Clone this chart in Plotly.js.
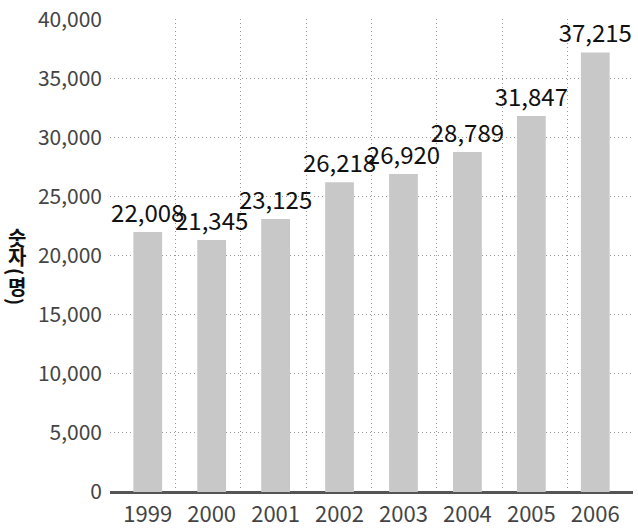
<!DOCTYPE html>
<html>
<head>
<meta charset="utf-8">
<script src="https://cdn.plot.ly/plotly-3.0.1.min.js"></script>
<style>
  body { margin: 0; background: #fff; }
</style>
</head>
<body>
<div id="bar_plot"></div>
<script>
/// Bar chart: 숫자(명) by year

var years = ['1999', '2000', '2001', '2002', '2003', '2004', '2005', '2006'];
var counts = [22008, 21345, 23125, 26218, 26920, 28789, 31847, 37215];
var yTicks = [0, 5000, 10000, 15000, 20000, 25000, 30000, 35000, 40000];
var yTitle = ['숫', '자', '(', '명', ')'];   // written top to bottom

var positions = years.map(function (y, i) { return i; });

var bars = {
    x: positions,
    y: counts,
    type: 'bar',
    width: 0.45,
    marker: {color: '#c8c8c8'},
    texttemplate: '%{y:,}',
    textposition: 'outside',
    constraintext: 'none',
    cliponaxis: false,
    textfont: {family: 'Noto Sans CJK KR', size: 24, color: '#111'},
    hoverinfo: 'none'
};

// plot area in pixels, used to place the stacked y title
var plotTop = 19, plotBottom = 492;
function paperY(px) { return (plotBottom - px) / (plotBottom - plotTop); }

// pixel rows of the stacked title characters, parens turned for vertical text
var titleRows = [237, 256, 272, 286, 302];

var annotations = yTitle.map(function (c, i) {
    var paren = (c === '(' || c === ')');
    return {
        text: c,
        xref: 'paper', yref: 'paper',
        x: -0.178, y: paperY(titleRows[i]),
        xanchor: 'center', yanchor: 'middle',
        textangle: paren ? 90 : 0,
        showarrow: false,
        font: {family: 'Noto Sans CJK KR', size: paren ? 19 : 20, color: '#111', weight: 'bold'}
    };
});

var layout = {
    width: 638,
    height: 531,
    margin: {l: 110, r: 5, t: 19, b: 39},
    paper_bgcolor: '#fff',
    plot_bgcolor: '#fff',
    showlegend: false,
    font: {family: 'Noto Sans CJK KR', color: '#444'},
    xaxis: {
        range: [-0.59, 7.59],
        tickvals: positions,
        ticktext: years,
        showgrid: false,
        zeroline: false,
        showline: false,
        ticks: '',
        ticklabelstandoff: 7,
        tickfont: {size: 22, color: '#444'},
        // dotted vertical grid, spaced a bit wider than the bars
        minor: {
            tickmode: 'linear',
            tick0: -0.584,
            dtick: 1.021,
            showgrid: true,
            gridcolor: '#999',
            griddash: '1px,3px',
            gridwidth: 1,
            ticks: ''
        },
        fixedrange: true
    },
    yaxis: {
        range: [0, 40050],
        tickvals: yTicks,
        tickformat: ',',
        ticklabeloverflow: 'allow',
        showgrid: true,
        gridcolor: '#999',
        griddash: '1px,3px',
        gridwidth: 1,
        zeroline: true,
        zerolinecolor: '#555',
        zerolinewidth: 3,
        showline: false,
        ticks: '',
        ticklabelstandoff: 7,
        tickfont: {size: 21, color: '#444'},
        fixedrange: true
    },
    annotations: annotations
};

Plotly.newPlot('bar_plot', [bars], layout, {staticPlot: true, displayModeBar: false});
</script>
</body>
</html>
